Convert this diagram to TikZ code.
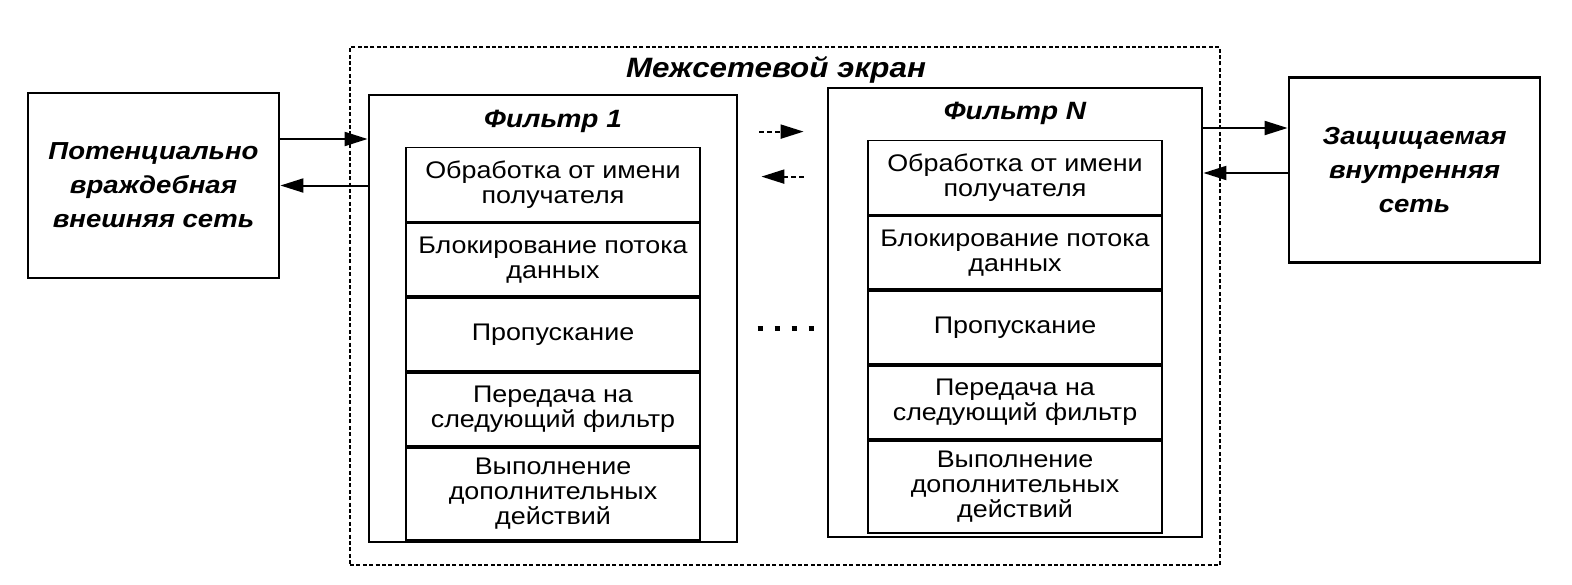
\documentclass[tikz,border=0pt]{standalone}
\usepackage{fontspec}
\setmainfont{Liberation Sans}[FakeStretch=1.12]
\usetikzlibrary{arrows.meta,positioning}

\begin{document}
\begin{tikzpicture}[x=0.5pt, y=-0.5pt,
	every node/.style={font=\fontsize{12}{12.5}\selectfont, inner sep=0pt, align=center},
	netbox/.style={draw, line width=1.4pt, minimum width=125.5pt, minimum height=92.5pt, font=\bfseries\itshape\fontsize{12.3}{17}\selectfont},
	fwbox/.style={draw, line width=1.1pt, dash pattern=on 2pt off 1.2pt, minimum width=435pt, minimum height=259pt},
	filterbox/.style={draw, line width=1.4pt},
	rowbox/.style={draw, line width=0.9pt, minimum width=147pt},
	boldlabel/.style={font=\bfseries\itshape\fontsize{12.5}{15}\selectfont},
	conn/.style={line width=1pt, -{Triangle[length=11.5pt, width=7pt]}},
	dconn/.style={conn, dash pattern=on 2.5pt off 1.5pt}]
	\useasboundingbox (0,0) rectangle (1572,584);
	\node[fwbox] (fw) at (785,306) {};
	\node[boldlabel, font=\bfseries\itshape\fontsize{14}{16}\selectfont] (fwlabel) at (776,70) {Межсетевой экран};
	\node[netbox] (ext) at (153.5,185.5) {Потенциально\\враждебная\\внешняя сеть};
	\node[netbox] (intn) at (1414.5,170) {Защищаемая\\внутренняя\\сеть};
	\node[filterbox, minimum width=184pt, minimum height=223.5pt] (f1) at (553,318.5) {};
	\node[filterbox, minimum width=187pt, minimum height=224.5pt] (fN) at (1015,312.5) {};
	\node[boldlabel] (f1label) at ([yshift=-14pt]f1.north) {Фильтр 1};
	\node[boldlabel] (fNlabel) at ([yshift=-13.5pt]fN.north) {Фильтр N};
	\foreach \f in {1,N} {
		\foreach \t/\h [count=\i] in {{Обработка от имени\\получателя}/37, {Блокирование потока\\данных}/36.5, {Пропускание}/36.5, {Передача на\\следующий фильтр}/36.5, {Выполнение\\дополнительных\\действий}/46} {
			\pgfmathtruncatemacro{\j}{\i-1}
			\ifnum\i=1
				\node[rowbox, minimum height=\h pt, anchor=north] (f\f r\i) at ([yshift=-26.5pt]f\f.north) {\t};
			\else
				\node[rowbox, minimum height=\h pt, below=0pt of f\f r\j] (f\f r\i) {\t};
			\fi
		}
	}
	\draw[conn] ([yshift=23.25pt]ext.east) -- ([yshift=23.25pt]ext.east -| f1.west);
	\draw[conn] (ext.east -| f1.west) -- (ext.east);
	\draw[conn] ([yshift=21pt]intn.west -| fN.east) -- ([yshift=21pt]intn.west);
	\draw[conn] ([yshift=-1.5pt]intn.west) -- ([yshift=-1.5pt]intn.west -| fN.east);
	\draw[dconn, shorten <=10.5pt, shorten >=11.5pt] ([yshift=-19pt]f1.north east) -- ([yshift=-19pt]f1.north east -| fN.west);
	\draw[dconn, shorten <=11.5pt, shorten >=11.5pt] ([yshift=-41.5pt]f1.north east -| fN.west) -- ([yshift=-41.5pt]f1.north east);
	\coordinate (dotsL) at (757.5,328);
	\coordinate (dotsR) at (813.5,328);
	\draw[line width=2.5pt, dash pattern=on 2.5pt off 6pt] (dotsL) -- (dotsR);
\end{tikzpicture}
\end{document}
